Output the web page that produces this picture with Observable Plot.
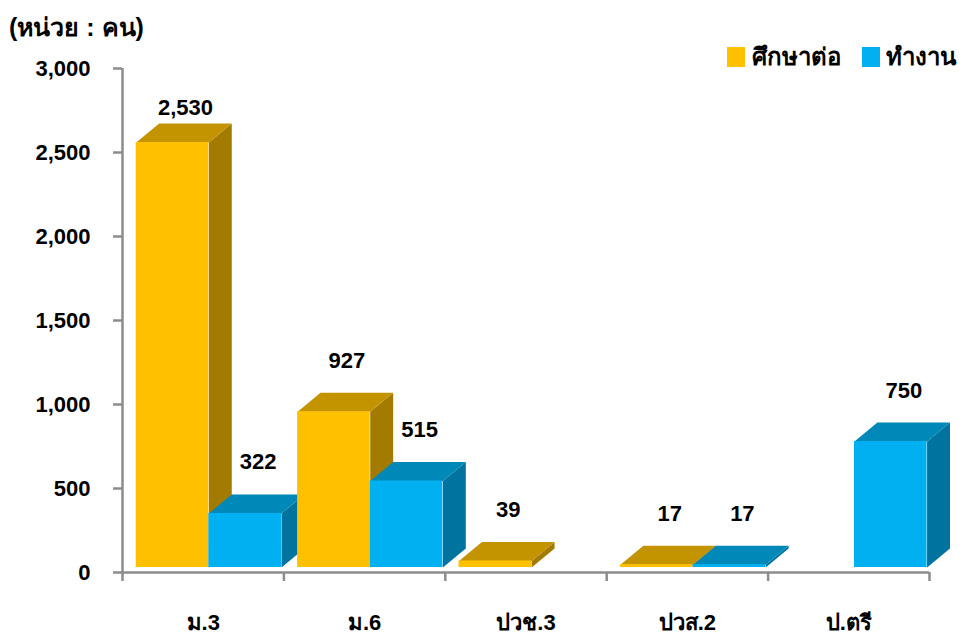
<!DOCTYPE html>
<html>
<head>
<meta charset="utf-8">
<script src="https://cdn.jsdelivr.net/npm/d3@7"></script>
<script src="https://cdn.jsdelivr.net/npm/@observablehq/plot@0.6"></script>
<style>
  html, body { margin: 0; padding: 0; background: #fff; }
  body { font-family: "Liberation Sans", Arial, "Noto Sans", "DejaVu Sans", sans-serif; }
  #wrap { position: relative; width: 970px; height: 640px; overflow: hidden; }
  #chart { position: absolute; left: 0; top: 0; }
  #title { position: absolute; left: 9px; top: 12px; font-size: 25px; font-weight: bold; color: #000; line-height: 30px; }
  .sw { position: absolute; width: 18px; height: 20px; top: 47px; }
  .lt { position: absolute; top: 42px; font-size: 24px; font-weight: bold; line-height: 30px; white-space: nowrap; }
</style>
</head>
<body>
<div id="wrap">
  <div id="chart"></div>
  <div id="title">(หน่วย : คน)</div>
  <div id="legend"></div>
</div>
<script>
// ---- data ----
const categories = ["ม.3", "ม.6", "ปวช.3", "ปวส.2", "ป.ตรี"];
const seriesNames = ["ศึกษาต่อ", "ทำงาน"];
const studyValues = [2530, 927, 39, 17, null];
const workValues = [322, 515, null, 17, 750];
const yTicks = [0, 500, 1000, 1500, 2000, 2500, 3000];

// ---- styling ----
const palette = {
  "ศึกษาต่อ": {front: "#FFC000", top: "#C39400", side: "#A37B00"},
  "ทำงาน": {front: "#00B0F0", top: "#0088B8", side: "#00739E"}
};
const axisGray = "#8c8c8c";
const barStart = 0.085, barWidth = 0.45; // in category units
const depthX = 0.142, depthY = 113;       // 3D depth in data units

// ---- build bars ----
const bars = [];
categories.forEach((c, i) => {
  [studyValues[i], workValues[i]].forEach((v, s) => {
    if (v == null) return;
    const x1 = i + barStart + s * barWidth;
    bars.push({cat: c, series: seriesNames[s], v, x1, x2: x1 + barWidth, id: c + s});
  });
});
const sides = [], tops = [];
bars.forEach(b => {
  sides.push(
    {id: b.id, series: b.series, x: b.x2, y: 0},
    {id: b.id, series: b.series, x: b.x2, y: b.v},
    {id: b.id, series: b.series, x: b.x2 + depthX, y: b.v + depthY},
    {id: b.id, series: b.series, x: b.x2 + depthX, y: depthY}
  );
  tops.push(
    {id: b.id, series: b.series, x: b.x1, y: b.v},
    {id: b.id, series: b.series, x: b.x2, y: b.v},
    {id: b.id, series: b.series, x: b.x2 + depthX, y: b.v + depthY},
    {id: b.id, series: b.series, x: b.x1 + depthX, y: b.v + depthY}
  );
});

const faceMarks = (rows, face) => seriesNames.map(s =>
  Plot.line(rows.filter(r => r.series === s), {
    x: "x", y: "y", z: "id", fill: palette[s][face], stroke: "none", dy: -5
  })
);

const fmt = d3.format(",");

const chart = Plot.plot({
  width: 970,
  height: 640,
  marginLeft: 122,
  marginRight: 41,
  marginTop: 68,
  marginBottom: 68,
  x: {domain: [0, 5], axis: null},
  y: {domain: [0, 3000], axis: null},
  style: {fontFamily: '"Liberation Sans", Arial, sans-serif', fontSize: "22px", fontWeight: "bold", color: "#000", background: "#fff"},
  marks: [
    ...faceMarks(sides, "side"),
    ...faceMarks(tops, "top"),
    ...seriesNames.map(s => Plot.rectY(bars.filter(b => b.series === s), {
      x1: "x1", x2: "x2", y1: 0, y2: "v", fill: palette[s].front, dy: -5, insetLeft: 0, insetRight: 0
    })),
    Plot.ruleX([0], {stroke: axisGray, strokeWidth: 2.5}),
    Plot.ruleY([0], {stroke: axisGray, strokeWidth: 2.5}),
    Plot.axisY(yTicks, {tickSize: 9, tickPadding: 23, tickFormat: fmt, stroke: axisGray, strokeWidth: 2.5, fill: "#000", label: null, fontSize: 22, fontWeight: "bold"}),
    Plot.axisX(d3.range(0, 6), {tickSize: 9, tickFormat: () => "", stroke: axisGray, strokeWidth: 2.5, label: null}),
    Plot.axisX(categories.map((c, i) => i + 0.5), {tickSize: 0, tickPadding: 42, tickFormat: d => categories[Math.round(d - 0.5)], fill: "#000", label: null, fontSize: 22, fontWeight: "bold"}),
    Plot.text(bars, {
      x: d => (d.x1 + d.x2) / 2,
      y: d => Math.min(d.v, 2430),
      text: d => fmt(d.v),
      dx: 13, dy: -56,
      fontSize: 22, fontWeight: "bold", fill: "#000"
    })
  ]
});
document.getElementById("chart").appendChild(chart);

// legend
const legend = document.getElementById("legend");
const legendPos = [[727, 752], [862, 886]];
seriesNames.forEach((s, i) => {
  const sw = document.createElement("span");
  sw.className = "sw";
  sw.style.left = legendPos[i][0] + "px";
  sw.style.background = palette[s].front;
  const t = document.createElement("span");
  t.className = "lt";
  t.style.left = legendPos[i][1] + "px";
  t.textContent = s;
  legend.appendChild(sw);
  legend.appendChild(t);
});
</script>
</body>
</html>
